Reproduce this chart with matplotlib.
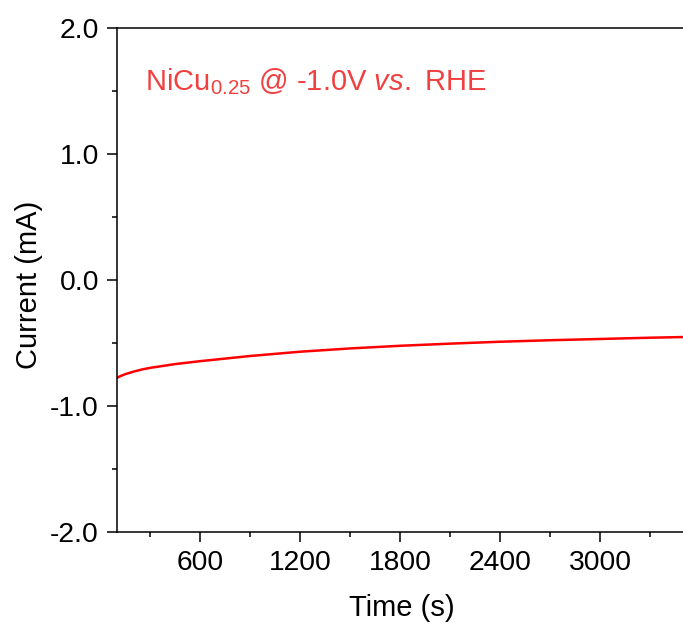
import numpy as np
import matplotlib
matplotlib.use("Agg")
import matplotlib.pyplot as plt
import matplotlib.ticker as ticker

FONTSIZE = 21
TICKSIZE = 20.3

# chronoamperometry readout, time in s, current in mA
time_s = [100, 120, 150, 200, 250, 300, 450, 600, 900, 1200, 1500, 1800, 2100, 2400, 2700,
          3000, 3300, 3600]
current_mA = [-0.776, -0.763, -0.747, -0.727, -0.710, -0.697, -0.667, -0.644, -0.603, -0.569,
              -0.543, -0.522, -0.505, -0.490, -0.478, -0.468, -0.458, -0.450]

x_ticks = [600, 1200, 1800, 2400, 3000]
y_ticks = [-2.0, -1.0, 0.0, 1.0, 2.0]

plt.rcParams["font.family"] = ["Liberation Sans", "DejaVu Sans"]
plt.rcParams["mathtext.fontset"] = "custom"
plt.rcParams["mathtext.rm"] = "Liberation Sans"
plt.rcParams["mathtext.it"] = "Liberation Sans:italic"
plt.rcParams["axes.unicode_minus"] = False

fig = plt.figure(figsize=(6.83, 6.3), dpi=100)
# axes runs past the right edge of the figure, as in the cropped original
ax = fig.add_axes([117 / 683, 98 / 630, 583.3 / 683, 504 / 630])

ax.plot(time_s, current_mA, color="#ff0000", linewidth=1.8)

ax.set_xlim(100, 3600)
ax.set_ylim(-2.0, 2.0)
ax.set_xticks(x_ticks)
ax.set_yticks(y_ticks)
ax.xaxis.set_minor_locator(ticker.MultipleLocator(300))
ax.yaxis.set_minor_locator(ticker.MultipleLocator(0.5))
ax.yaxis.set_major_formatter(ticker.FormatStrFormatter("%.1f"))

ax.tick_params(which="both", direction="out", width=1.1, labelsize=TICKSIZE)
ax.tick_params(which="major", length=7, pad=6)
ax.tick_params(which="minor", length=3.5)
for s in ax.spines.values():
    s.set_linewidth(1.1)
ax.spines["right"].set_visible(False)

ax.set_xlabel("Time (s)", fontsize=FONTSIZE)
ax.set_ylabel("Current (mA)", fontsize=FONTSIZE)
ax.xaxis.set_label_coords(0.488, -0.124)
ax.yaxis.set_label_coords(-0.127, 0.49)

ax.text(0.048, 0.877, r"NiCu$_{\mathrm{0.25}}$ @ -1.0V $\it{vs.}$ RHE",
        transform=ax.transAxes, color="#f04040", fontsize=FONTSIZE, va="baseline")

fig.savefig("out.png", dpi=100)
